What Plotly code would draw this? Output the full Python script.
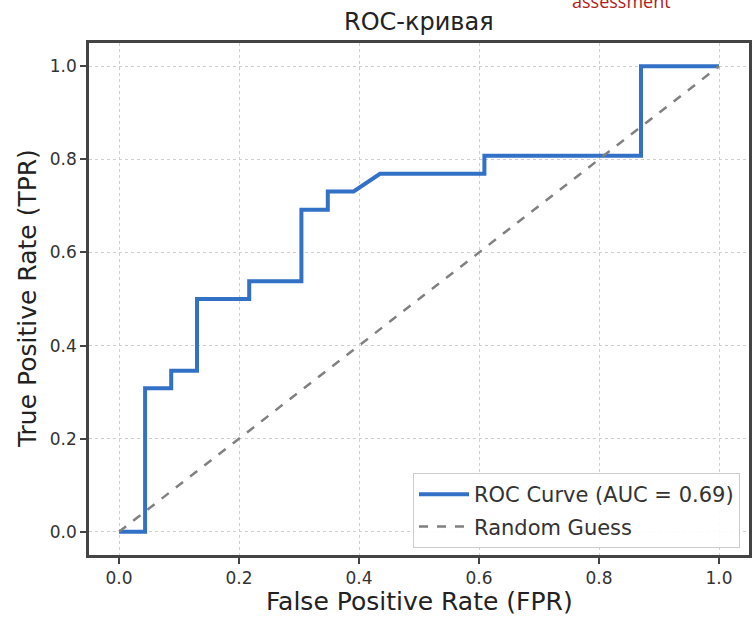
import plotly.graph_objects as go

# ROC curve data
fpr = [0.0, 0.0435, 0.0435, 0.087, 0.087, 0.130, 0.130, 0.217, 0.217, 0.304, 0.304,
       0.348, 0.348, 0.391, 0.435, 0.609, 0.609, 0.870, 0.870, 1.0]
tpr = [0.0, 0.0, 0.308, 0.308, 0.346, 0.346, 0.500, 0.500, 0.538, 0.538, 0.692,
       0.692, 0.731, 0.731, 0.769, 0.769, 0.808, 0.808, 1.0, 1.0]
diag_x = [0.0, 1.0]
diag_y = [0.0, 1.0]
tick_vals = [0.0, 0.2, 0.4, 0.6, 0.8, 1.0]
tick_text = ["0.0", "0.2", "0.4", "0.6", "0.8", "1.0"]
auc_label = "ROC Curve (AUC = 0.69)"
diag_label = "Random Guess"

W, H = 752, 617
L, R, T, B = 89, 3, 43, 62
pw, ph = W - L - R, H - T - B

def px_x(px):
    return (px - L) / pw

def px_y(py):
    return (H - B - py) / ph

FONT = "DejaVu Sans"
TXT = "#333333"

fig = go.Figure()
fig.add_trace(go.Scatter(x=fpr, y=tpr, mode="lines", name=auc_label,
                         line=dict(color="#3371c6", width=4), legendgroup="a"))
fig.add_trace(go.Scatter(x=diag_x, y=diag_y, mode="lines", name=diag_label,
                         line=dict(color="#808080", width=2.5, dash="dash"), legendgroup="b"))

axis_common = dict(
    tickvals=tick_vals, ticktext=tick_text,
    showgrid=True, gridcolor="#cfcfcf", gridwidth=1, griddash="dot",
    showline=True, mirror=True, linecolor="#444444", linewidth=2.5,
    ticks="outside", ticklen=6, tickcolor="#444444", tickwidth=1.5,
    tickfont=dict(family=FONT, size=17, color=TXT),
    zeroline=False, automargin=False,
)
fig.update_xaxes(range=[-0.05, 1.05], **axis_common)
fig.update_yaxes(range=[-0.05, 1.05], **axis_common)

fig.update_layout(
    width=W, height=H,
    margin=dict(l=L, r=R, t=T, b=B),
    paper_bgcolor="white", plot_bgcolor="white",
    font=dict(family=FONT, color=TXT),
    showlegend=True,
    legend=dict(x=px_x(740), xanchor="right", y=px_y(548), yanchor="bottom",
                bgcolor="rgba(255,255,255,0.9)", bordercolor="#cccccc", borderwidth=1,
                font=dict(family=FONT, size=21, color=TXT),
                itemwidth=50,
                traceorder="grouped", tracegroupgap=2),
    annotations=[
        dict(text="ROC-кривая", xref="paper", yref="paper", x=0.5, y=px_y(22),
             xanchor="center", yanchor="middle", showarrow=False,
             font=dict(family=FONT, size=24, color="#222222")),
        dict(text="False Positive Rate (FPR)", xref="paper", yref="paper",
             x=0.5, y=px_y(601), xanchor="center", yanchor="middle", showarrow=False,
             font=dict(family=FONT, size=25, color="#222222")),
        dict(text="True Positive Rate (TPR)", xref="paper", yref="paper",
             x=px_x(27), y=0.5, xanchor="center", yanchor="middle", showarrow=False,
             textangle=-90, font=dict(family=FONT, size=25, color="#222222")),
        dict(text="assessment", xref="paper", yref="paper",
             x=px_x(621), y=px_y(0.5), xanchor="center", yanchor="middle", showarrow=False,
             font=dict(family="Open Sans", size=18, color="#b01c1c")),
    ],
)

fig.write_html("out.html", config={"displayModeBar": False},
               post_script="document.body.style.margin='0px';document.body.style.overflow='hidden';")
